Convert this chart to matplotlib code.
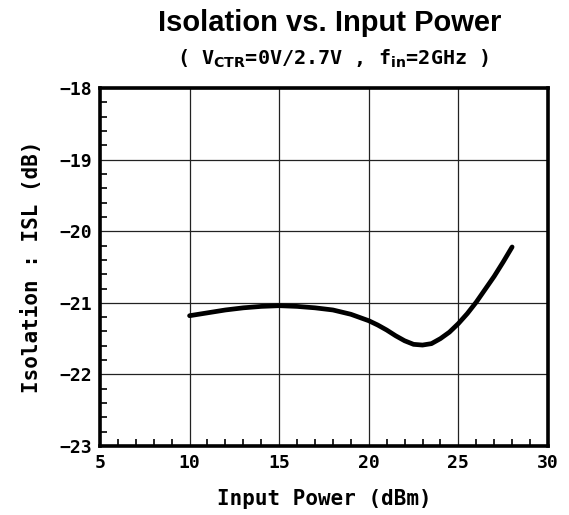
import matplotlib
matplotlib.use('Agg')
import matplotlib.pyplot as plt
from matplotlib.ticker import MultipleLocator

# Isolation vs input power
pin_dbm = [10, 11, 12, 13, 14, 15, 16, 17, 18, 19, 20, 20.5, 21, 21.5, 22, 22.5, 23,
           23.5, 24, 24.5, 25, 25.5, 26, 26.5, 27, 27.5, 28]
isl_db = [-21.18, -21.14, -21.10, -21.07, -21.05, -21.04, -21.05, -21.07, -21.10,
          -21.16, -21.25, -21.31, -21.38, -21.46, -21.53, -21.58, -21.59,
          -21.57, -21.50, -21.41, -21.29, -21.15, -20.99, -20.81, -20.63, -20.43, -20.22]

x_ticks = [5, 10, 15, 20, 25, 30]
y_ticks = [-18, -19, -20, -21, -22, -23]

mono = 'DejaVu Sans Mono'

fig = plt.figure(figsize=(5.69, 5.15), dpi=100)
ax = fig.add_axes([0.1757, 0.134, 0.7873, 0.695])

ax.plot(pin_dbm, isl_db, color='black', linewidth=3.4, solid_capstyle='round',
        solid_joinstyle='round')

ax.set_xlim(5, 30)
ax.set_ylim(-23, -18)
ax.set_xticks(x_ticks)
ax.set_yticks(y_ticks)
ax.set_xticklabels([str(t) for t in x_ticks])
ax.set_yticklabels(['\u2212' + str(abs(t)) for t in y_ticks])
ax.xaxis.set_minor_locator(MultipleLocator(1))
ax.yaxis.set_minor_locator(MultipleLocator(0.2))

ax.grid(which='major', color='#222222', linewidth=0.9)
ax.tick_params(which='both', direction='in', top=False, right=False)
ax.tick_params(which='major', length=0, pad=6)
ax.tick_params(which='minor', length=5, width=1.2)

for lab in ax.get_xticklabels() + ax.get_yticklabels():
    lab.set_fontfamily(mono)
    lab.set_fontweight('bold')
    lab.set_fontsize(13)

for s in ax.spines.values():
    s.set_linewidth(2.6)

ax.set_xlabel('Input Power (dBm)', fontfamily=mono, fontweight='bold', fontsize=15, labelpad=12)
ax.set_ylabel('Isolation : ISL (dB)', fontfamily=mono, fontweight='bold', fontsize=15, labelpad=12)

fig.text(0.58, 0.955, 'Isolation vs. Input Power', ha='center', va='center',
         fontfamily='Liberation Sans', fontweight='bold', fontsize=21)
fig.text(0.585, 0.885, r'( V$_{\mathbf{CTR}}$=0V/2.7V , f$_{\mathbf{in}}$=2GHz )',
         ha='center', va='center', fontfamily=mono, fontweight='bold', fontsize=14.5)

fig.savefig('out.png', dpi=100)
